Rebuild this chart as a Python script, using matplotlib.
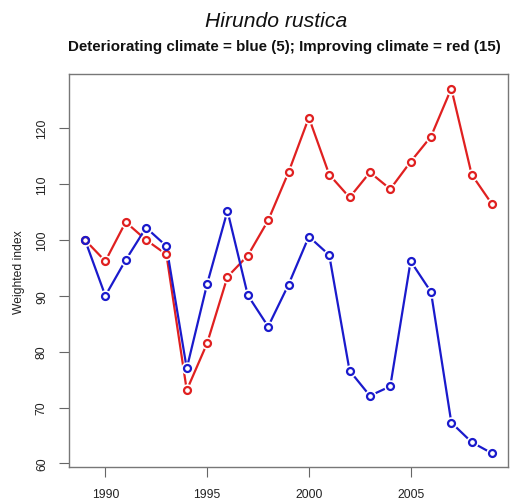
import matplotlib
matplotlib.use("Agg")
import matplotlib.pyplot as plt

years = list(range(1989, 2010))
red_vals = [100.0, 96.2, 103.2, 100.0, 97.4, 73.1, 81.5, 93.4, 97.2, 103.5, 112.1,
            121.9, 111.7, 107.6, 112.1, 109.1, 114.0, 118.5, 127.1, 111.7, 106.4]
blue_vals = [100.0, 90.0, 96.4, 102.2, 98.9, 77.0, 92.1, 105.2, 90.1, 84.5, 92.0,
             100.6, 97.3, 76.6, 72.1, 73.8, 96.2, 90.7, 67.3, 63.8, 61.8]
xticks = [1990, 1995, 2000, 2005]
yticks = [60, 70, 80, 90, 100, 110, 120]

plt.rcParams['font.family'] = ['Liberation Sans', 'DejaVu Sans']

fig = plt.figure(figsize=(5.12, 5.02), dpi=100)
ax = fig.add_axes([0.1342, 0.0671, 0.8586, 0.7835])

for vals, col in [(red_vals, '#e02020'), (blue_vals, '#1a1acc')]:
    ax.plot(years, vals, color=col, lw=1.6, zorder=2, solid_capstyle='butt')
    ax.plot(years, vals, linestyle='none', marker='o', ms=9, mfc='white', mec='white',
            mew=0, zorder=3)
    ax.plot(years, vals, linestyle='none', marker='o', ms=5.0, mfc='none', mec=col,
            mew=1.6, zorder=4)

ax.set_xlim(1988.2, 2009.8)
ax.set_ylim(59.3, 129.7)
ax.set_xticks(xticks)
ax.set_xticklabels([str(t) for t in xticks])
ax.set_yticks(yticks)
ax.set_yticklabels([str(t) for t in yticks], rotation=90, va='center')
ax.tick_params(axis='both', length=7, width=0.8, color='#666666', labelsize=8.7,
               labelcolor='#222222', pad=8)
for s in ax.spines.values():
    s.set_color('#777777')
    s.set_linewidth(1.0)

ax.set_ylabel('Weighted index', fontsize=8.7, color='#222222', labelpad=8)
fig.text(0.540, 0.958, 'Hirundo rustica', ha='center', va='center', style='italic',
         fontsize=15.2, color='#111111')
fig.text(0.555, 0.906, 'Deteriorating climate = blue (5); Improving climate = red (15)',
         ha='center', va='center', fontweight='bold', fontsize=10.9, color='#111111')

fig.savefig('out.png', dpi=100)
